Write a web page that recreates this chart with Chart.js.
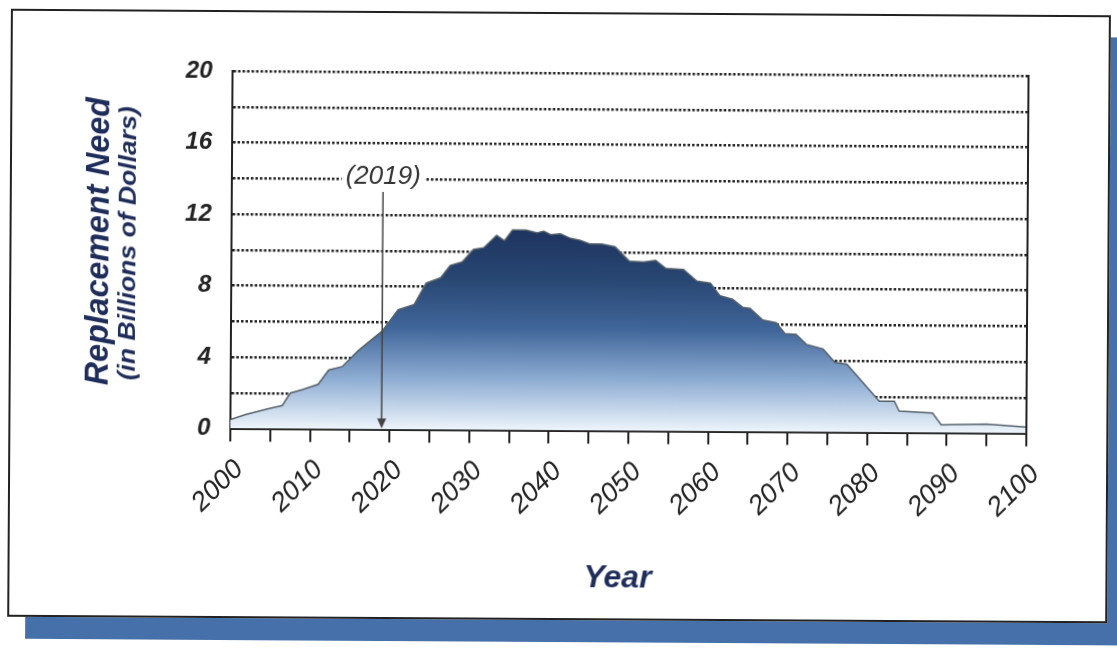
<!DOCTYPE html>
<html>
<head>
<meta charset="utf-8">
<script src="https://cdn.jsdelivr.net/npm/chart.js@4.4.1/dist/chart.umd.min.js"></script>
<style>
  html, body { margin: 0; padding: 0; background: #fff; overflow: hidden; }
  #page { position: absolute; left: 0; top: 0; width: 1117px; height: 649px; transform: rotate(0.35deg); }
  #frame {
    position: absolute; left: 9px; top: 12px; width: 1096px; height: 604px;
    border: 2px solid #222; background: #fff;
    box-shadow: 18px 22px 0 0 #4670a9;
  }
  #wrap { position: absolute; left: 0; top: 0; width: 1117px; height: 649px; }
</style>
</head>
<body>
<div id="page">
  <div id="frame"></div>
  <div id="wrap"><canvas id="needChart" width="1117" height="649"></canvas></div>
</div>
<script>
// data (years can be fractional, line is stepped)
const years = [2000, 2002, 2005, 2006.5, 2007.5, 2009, 2011, 2012.3, 2014, 2016,
  2019, 2021, 2023, 2024.5, 2026.3, 2027.5, 2029, 2030.4, 2031.7, 2033.3,
  2034.3, 2035.3, 2037, 2038.4, 2039.2, 2040.1, 2041.3, 2042.6, 2043.8, 2045,
  2046.5, 2048.2, 2050, 2051.8, 2053.3, 2054.6, 2056.8, 2058.5, 2060.2, 2061.4,
  2063, 2064.3, 2065.2, 2066.8, 2068.5, 2069.6, 2071, 2072.3, 2074.4, 2075.9,
  2077.4, 2081.5, 2083.4, 2084, 2088.2, 2089.3, 2095, 2100];
const needs = [0.5, 0.8, 1.15, 1.3, 2.0, 2.2, 2.5, 3.3, 3.5, 4.4,
  5.5, 6.7, 7.0, 8.2, 8.5, 9.2, 9.4, 10.1, 10.2, 10.9,
  10.6, 11.2, 11.2, 11.05, 11.15, 10.95, 11.0, 10.75, 10.65, 10.45,
  10.45, 10.3, 9.5, 9.45, 9.55, 9.1, 9.05, 8.4, 8.3, 7.6,
  7.4, 6.95, 6.9, 6.25, 6.1, 5.5, 5.45, 4.9, 4.65, 3.9,
  3.8, 1.75, 1.75, 1.2, 1.1, 0.45, 0.5, 0.35];

const yLabelValues = [0, 4, 8, 12, 16, 20];
const xLabelYears = [2000, 2010, 2020, 2030, 2040, 2050, 2060, 2070, 2080, 2090, 2100];
const markYear = 2019;
const markText = "(2019)";

const yTitle = "Replacement Need";
const ySubTitle = "(in Billions of Dollars)";
const xTitle = "Year";

const navy = "#1f2d5a";
const ink = "#222";
const fam = "'Liberation Sans', Arial, sans-serif";

const points = years.map((y, i) => ({ x: y, y: needs[i] }));

// vertical gradient for the area, dark at the top of the hump
function areaFill(context) {
  const chart = context.chart;
  const ys = chart.scales.y;
  if (!chart.chartArea) return "#5a7fb0";
  const g = chart.ctx.createLinearGradient(0, ys.getPixelForValue(11.3), 0, ys.getPixelForValue(0));
  g.addColorStop(0, "#1e335f");
  g.addColorStop(0.25, "#284672");
  g.addColorStop(0.5, "#41669a");
  g.addColorStop(0.75, "#8eadd3");
  g.addColorStop(1, "#eef5fc");
  return g;
}

// titles, right border and the 2019 arrow
const decorations = {
  id: "decorations",
  afterDatasetsDraw(chart) {
    const ctx = chart.ctx;
    const area = chart.chartArea;
    const xs = chart.scales.x;
    const ax = xs.getPixelForValue(markYear);

    ctx.save();
    // right border of the plot
    ctx.strokeStyle = ink;
    ctx.lineWidth = 2;
    ctx.beginPath();
    ctx.moveTo(area.right, area.top - 1);
    ctx.lineTo(area.right, area.bottom);
    ctx.stroke();

    // arrow
    ctx.strokeStyle = "#444";
    ctx.fillStyle = "#444";
    ctx.lineWidth = 1.5;
    ctx.beginPath();
    ctx.moveTo(ax, 193);
    ctx.lineTo(ax, area.bottom - 8);
    ctx.stroke();
    ctx.beginPath();
    ctx.moveTo(ax - 4.5, area.bottom - 11);
    ctx.lineTo(ax + 4.5, area.bottom - 11);
    ctx.lineTo(ax, area.bottom - 1);
    ctx.closePath();
    ctx.fill();

    // label with white patch over the grid line
    ctx.font = "italic 26px " + fam;
    const w = ctx.measureText(markText).width;
    ctx.fillStyle = "#fff";
    ctx.fillRect(ax - w / 2 - 4, 164, w + 8, 26);
    ctx.fillStyle = "#333";
    ctx.textAlign = "center";
    ctx.textBaseline = "middle";
    ctx.fillText(markText, ax, 178);

    // axis titles
    ctx.fillStyle = navy;
    ctx.font = "italic bold 32px " + fam;
    ctx.fillText(xTitle, 619, 578);

    const drawVertical = (txt, font, cx, cy, len) => {
      ctx.save();
      ctx.font = font;
      const m = ctx.measureText(txt).width;
      ctx.translate(cx, cy);
      ctx.rotate(-Math.PI / 2);
      ctx.scale(len / m, 1);
      ctx.textAlign = "center";
      ctx.textBaseline = "middle";
      ctx.fillText(txt, 0, 0);
      ctx.restore();
    };
    drawVertical(yTitle, "italic bold 33px " + fam, 99, 244, 288);
    drawVertical(ySubTitle, "italic bold 23px " + fam, 129, 246, 274);
    ctx.restore();
  }
};

new Chart("needChart", {
  type: "line",
  data: {
    datasets: [{
      data: points,
      borderColor: "#56626a",
      borderWidth: 1.5,
      backgroundColor: areaFill,
      fill: "origin",
      pointRadius: 0,
      tension: 0
    }]
  },
  options: {
    responsive: false,
    animation: false,
    layout: { padding: { left: 0, right: 90, top: 73, bottom: 0 } },
    plugins: {
      legend: { display: false },
      tooltip: { enabled: false }
    },
    scales: {
      x: {
        type: "linear",
        min: 2000,
        max: 2100,
        afterFit: (s) => { s.height = 649 - 73 - 357.5; },
        afterBuildTicks: (s) => {
          const t = [];
          for (let v = 2000; v <= 2100; v += 5) t.push({ value: v });
          s.ticks = t;
        },
        ticks: {
          autoSkip: false,
          minRotation: 45,
          maxRotation: 45,
          padding: 12,
          labelOffset: 9,
          color: ink,
          font: { family: fam, size: 27, style: "italic" },
          callback: (v) => xLabelYears.includes(v) ? String(v) : ""
        },
        grid: {
          drawOnChartArea: false,
          drawTicks: true,
          tickLength: 13,
          color: ink,
          lineWidth: 2
        },
        border: { display: true, color: ink, width: 2 }
      },
      y: {
        min: 0,
        max: 20,
        afterFit: (s) => { s.width = 231; },
        ticks: {
          stepSize: 2,
          padding: 20,
          color: ink,
          font: { family: fam, size: 24, style: "italic", weight: "bold" },
          callback: (v) => yLabelValues.includes(v) ? String(v) : ""
        },
        grid: {
          drawTicks: false,
          color: ink,
          lineWidth: 2.5
        },
        border: { display: true, color: ink, width: 2, dash: [2.5, 2] }
      }
    }
  },
  plugins: [decorations]
});
</script>
</body>
</html>
